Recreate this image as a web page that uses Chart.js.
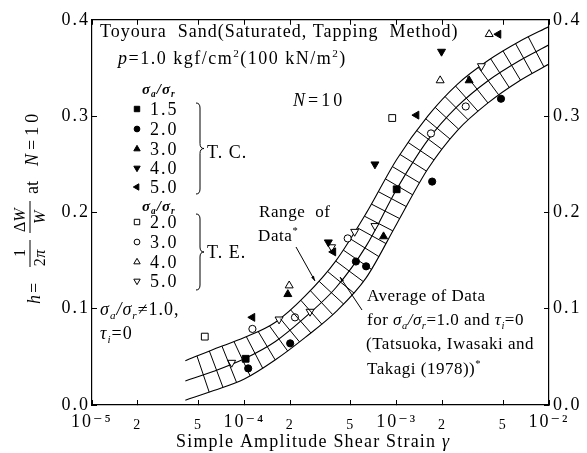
<!DOCTYPE html>
<html>
<head>
<meta charset="utf-8">
<script src="https://cdn.jsdelivr.net/npm/chart.js@4.4.1/dist/chart.umd.min.js"></script>
<style>
  body { margin: 0; background: #fff; }
</style>
</head>
<body>
<canvas id="hChart" width="587" height="453"></canvas>
<script>
// band: range of data + average curve
const bandStrain = [4.1e-5, 6.3e-5, 1.0e-4, 1.6e-4, 2.5e-4, 4.0e-4, 6.3e-4, 1.0e-3, 1.6e-3, 2.5e-3, 4.0e-3, 6.3e-3, 1.0e-2];
const bandUpper  = [0.046, 0.058, 0.070, 0.086, 0.113, 0.150, 0.199, 0.255, 0.300, 0.333, 0.358, 0.377, 0.393];
const bandAvg    = [0.025, 0.035, 0.048, 0.066, 0.091, 0.122, 0.165, 0.224, 0.275, 0.310, 0.337, 0.357, 0.374];
const bandLower  = [0.005, 0.015, 0.027, 0.047, 0.070, 0.097, 0.132, 0.188, 0.245, 0.285, 0.314, 0.336, 0.354];

// T.C. points [strain, h]
const tc15 = [[1.02e-4, 0.048], [1.0e-3, 0.224]];
const tc20 = [[1.06e-4, 0.038], [2.0e-4, 0.064], [5.4e-4, 0.149], [6.3e-4, 0.144], [1.71e-3, 0.232], [4.84e-3, 0.318]];
const tc30 = [[1.93e-4, 0.115], [8.2e-4, 0.175], [2.99e-3, 0.337]];
const tc40 = [[3.56e-4, 0.169], [7.2e-4, 0.250], [1.97e-3, 0.367]];
const tc50 = [[1.13e-4, 0.091], [3.84e-4, 0.159], [1.35e-3, 0.301], [4.66e-3, 0.385]];
// T.E. points
const te20 = [[5.5e-5, 0.071], [9.35e-4, 0.298]];
const te30 = [[1.13e-4, 0.079], [2.15e-4, 0.091], [4.77e-4, 0.173], [1.68e-3, 0.282], [2.84e-3, 0.310]];
const te40 = [[1.97e-4, 0.124], [1.93e-3, 0.337], [4.05e-3, 0.385]];
const te50 = [[8.26e-5, 0.044], [1.69e-4, 0.089], [2.7e-4, 0.097], [3.74e-4, 0.164], [5.3e-4, 0.180], [7.2e-4, 0.186], [3.6e-3, 0.352]];

const ratioTC = ['1.5', '2.0', '3.0', '4.0', '5.0'];
const ratioTE = ['2.0', '3.0', '4.0', '5.0'];

const yTicks = [0, 0.1, 0.2, 0.3, 0.4];
const xTicks = [1e-5, 2e-5, 5e-5, 1e-4, 2e-4, 5e-4, 1e-3, 2e-3, 5e-3, 1e-2];
const xTickLabels = ['10⁻⁵', '2', '5', '10⁻⁴', '2', '5', '10⁻³', '2', '5', '10⁻²'];

const FONT = "'Liberation Serif', 'DejaVu Serif', serif";

// marker looks, same order as the series
const tcSeries = [tc15, tc20, tc30, tc40, tc50];
const teSeries = [te20, te30, te40, te50];
const tcMarks = [
  { pointStyle: 'rect', rotation: 0, radius: 4.8 },
  { pointStyle: 'circle', rotation: 0, radius: 3.6 },
  { pointStyle: 'triangle', rotation: 0, radius: 4.6 },
  { pointStyle: 'triangle', rotation: 180, radius: 4.6 },
  { pointStyle: 'triangle', rotation: 270, radius: 4.6 }
];
const teMarks = [
  { pointStyle: 'rect', rotation: 0, radius: 4.8 },
  { pointStyle: 'circle', rotation: 0, radius: 3.6 },
  { pointStyle: 'triangle', rotation: 0, radius: 4.6 },
  { pointStyle: 'triangle', rotation: 180, radius: 4.6 }
];

function pts(arr) { return arr.map(p => ({ x: p[0], y: p[1] })); }
function bandPts(ys) { return bandStrain.map((x, i) => ({ x: x, y: ys[i] })); }

const datasets = [];
[bandUpper, bandAvg, bandLower].forEach(function (ys, i) {
  datasets.push({
    type: 'line', label: 'band' + i, data: bandPts(ys), order: 2,
    borderColor: '#000', borderWidth: 1.1, pointRadius: 0, showLine: true,
    cubicInterpolationMode: 'monotone', fill: false
  });
});
tcSeries.forEach(function (s, i) {
  datasets.push(Object.assign({
    label: 'TC ' + ratioTC[i], data: pts(s), order: 1,
    backgroundColor: '#000', borderColor: '#000', borderWidth: 1
  }, tcMarks[i], { pointRadius: tcMarks[i].radius }));
});
teSeries.forEach(function (s, i) {
  datasets.push(Object.assign({
    label: 'TE ' + ratioTE[i], data: pts(s), order: 1,
    backgroundColor: '#fff', borderColor: '#000', borderWidth: 1
  }, teMarks[i], { pointRadius: teMarks[i].radius }));
});

function isDecade(v) {
  const l = Math.log10(v);
  return Math.abs(l - Math.round(l)) < 1e-6;
}

// draw text made of pieces: i italic, b bold, _ subscript, ^ superscript
function rich(ctx, x, y, parts, size, sp) {
  let cx = x;
  parts.forEach(function (p) {
    const t = p[0], st = p[1] || '';
    let s = size, dy = 0;
    if (st.indexOf('_') >= 0) { s = size * 0.62; dy = size * 0.22; }
    if (st.indexOf('^') >= 0) { s = size * 0.62; dy = -size * 0.4; }
    ctx.font = (st.indexOf('i') >= 0 ? 'italic ' : '') + (st.indexOf('b') >= 0 ? 'bold ' : '') + s + 'px ' + FONT;
    ctx.letterSpacing = (sp || 0) + 'px';
    ctx.fillText(t, cx, y + dy);
    cx += ctx.measureText(t).width;
  });
  return cx - x;
}

function curvePoints(meta, area) {
  if (meta.dataset && meta.dataset.updateControlPoints) meta.dataset.updateControlPoints(area, 'x');
  const p = meta.data, out = [];
  for (let i = 0; i < p.length - 1; i++) {
    const a = p[i], b = p[i + 1];
    const c1x = a.cp2x !== undefined ? a.cp2x : a.x, c1y = a.cp2y !== undefined ? a.cp2y : a.y;
    const c2x = b.cp1x !== undefined ? b.cp1x : b.x, c2y = b.cp1y !== undefined ? b.cp1y : b.y;
    for (let k = 0; k < 24; k++) {
      const t = k / 24, m = 1 - t;
      out.push([
        m * m * m * a.x + 3 * m * m * t * c1x + 3 * m * t * t * c2x + t * t * t * b.x,
        m * m * m * a.y + 3 * m * m * t * c1y + 3 * m * t * t * c2y + t * t * t * b.y
      ]);
    }
  }
  out.push([p[p.length - 1].x, p[p.length - 1].y]);
  return out;
}

function hitLine(px, py, nx, ny, poly) {
  let best = null;
  for (let i = 0; i < poly.length - 1; i++) {
    const ax = poly[i][0], ay = poly[i][1];
    const dx = poly[i + 1][0] - ax, dy = poly[i + 1][1] - ay;
    const den = nx * dy - ny * dx;
    if (Math.abs(den) < 1e-9) continue;
    const qx = ax - px, qy = ay - py;
    const t = (qx * dy - qy * dx) / den;
    const s = (qx * ny - qy * nx) / den;
    if (s < 0 || s > 1) continue;
    if (best === null || Math.abs(t) < Math.abs(best)) best = t;
  }
  return best === null ? null : [px + best * nx, py + best * ny];
}

// cross hatching of the range band
const hatchPlugin = {
  id: 'hatch',
  afterDatasetsDraw(chart) {
    const area = chart.chartArea;
    const up = curvePoints(chart.getDatasetMeta(0), area);
    const mid = curvePoints(chart.getDatasetMeta(1), area);
    const low = curvePoints(chart.getDatasetMeta(2), area);
    const ctx = chart.ctx;
    ctx.save();
    ctx.beginPath();
    ctx.rect(area.left, area.top, area.right - area.left, area.bottom - area.top);
    ctx.clip();
    ctx.strokeStyle = '#000';
    ctx.lineWidth = 1;
    const step = 14;
    let next = 5, acc = 0;
    for (let i = 0; i < mid.length - 1; i++) {
      const dx = mid[i + 1][0] - mid[i][0], dy = mid[i + 1][1] - mid[i][1];
      const len = Math.hypot(dx, dy);
      while (acc + len >= next) {
        const f = (next - acc) / len;
        const px = mid[i][0] + f * dx, py = mid[i][1] + f * dy;
        const nx = -dy / len, ny = dx / len;
        const a = hitLine(px, py, nx, ny, up), b = hitLine(px, py, nx, ny, low);
        if (a && b) {
          ctx.beginPath();
          ctx.moveTo(a[0], a[1]);
          ctx.lineTo(b[0], b[1]);
          ctx.stroke();
        }
        next += step;
      }
      acc += len;
    }
    ctx.restore();
  }
};

function brace(ctx, x, y0, y1) {
  const ym = (y0 + y1) / 2;
  ctx.beginPath();
  ctx.moveTo(x - 3, y0);
  ctx.quadraticCurveTo(x + 1, y0, x + 1, y0 + 5);
  ctx.lineTo(x + 1, ym - 5);
  ctx.quadraticCurveTo(x + 1, ym, x + 5, ym);
  ctx.quadraticCurveTo(x + 1, ym, x + 1, ym + 5);
  ctx.lineTo(x + 1, y1 - 5);
  ctx.quadraticCurveTo(x + 1, y1, x - 3, y1);
  ctx.stroke();
}

function leader(ctx, x0, y0, x1, y1) {
  ctx.beginPath();
  ctx.moveTo(x0, y0);
  ctx.lineTo(x1, y1);
  ctx.stroke();
  const a = Math.atan2(y1 - y0, x1 - x0);
  ctx.beginPath();
  ctx.moveTo(x1, y1);
  ctx.lineTo(x1 - 5 * Math.cos(a) + 1.6 * Math.sin(a), y1 - 5 * Math.sin(a) - 1.6 * Math.cos(a));
  ctx.lineTo(x1 - 5 * Math.cos(a) - 1.6 * Math.sin(a), y1 - 5 * Math.sin(a) + 1.6 * Math.cos(a));
  ctx.closePath();
  ctx.fill();
}

const textPlugin = {
  id: 'texts',
  beforeDraw(chart) {
    chart.ctx.letterSpacing = '2px';
  },
  afterDraw(chart) {
    const ctx = chart.ctx;
    const H = Chart.helpers;
    ctx.save();
    ctx.fillStyle = '#000';
    ctx.strokeStyle = '#000';
    ctx.lineWidth = 1;
    ctx.textBaseline = 'alphabetic';
    ctx.textAlign = 'left';

    rich(ctx, 100, 37, [['Toyoura  Sand(Saturated, Tapping  Method)']], 18, 1);
    rich(ctx, 118, 64, [['p', 'i'], ['=1.0 kgf/cm'], ['2', '^'], ['(100 kN/m'], ['2', '^'], [')']], 18, 1.5);
    rich(ctx, 293, 106, [['N', 'i'], ['=10']], 18, 3);

    // legend, T.C.
    const hdr = [['σ', 'bi'], ['a', 'bi_'], ['/σ', 'bi'], ['r', 'bi_']];
    rich(ctx, 142, 94, hdr, 15, 1);
    const tcY = [109, 129, 149, 168, 187];
    ratioTC.forEach(function (r, i) {
      ctx.fillStyle = '#000';
      H.drawPoint(ctx, Object.assign({}, tcMarks[i], { radius: tcMarks[i].radius * 0.8, borderWidth: 1 }), 137, tcY[i]);
      rich(ctx, 150, tcY[i] + 6, [[r]], 18, 2);
    });
    brace(ctx, 199, 103, 194);
    rich(ctx, 207, 158, [['T. C.']], 18, 1);

    // legend, T.E.
    rich(ctx, 142, 211, hdr, 15, 1);
    const teY = [222, 242, 262, 281];
    ratioTE.forEach(function (r, i) {
      ctx.fillStyle = '#fff';
      H.drawPoint(ctx, Object.assign({}, teMarks[i], { radius: teMarks[i].radius * 0.8, borderWidth: 1 }), 137, teY[i]);
      ctx.fillStyle = '#000';
      rich(ctx, 150, teY[i] + 6, [[r]], 18, 2);
    });
    brace(ctx, 199, 214, 290);
    rich(ctx, 207, 258, [['T. E.']], 18, 1);

    rich(ctx, 100, 315, [['σ', 'i'], ['a', 'i_'], ['/σ', 'i'], ['r', 'i_'], ['≠1.0,']], 18, 1);
    rich(ctx, 100, 339, [['τ', 'i'], ['i', 'i_'], ['=0']], 18, 1);

    rich(ctx, 259, 217, [['Range  of']], 17, 0.6);
    rich(ctx, 258, 241, [['Data'], ['*', '^']], 17, 0.6);
    rich(ctx, 367, 301, [['Average of Data']], 17, 0.5);
    rich(ctx, 367, 325, [['for '], ['σ', 'i'], ['a', 'i_'], ['/σ', 'i'], ['r', 'i_'], ['=1.0 and '], ['τ', 'i'], ['i', 'i_'], ['=0']], 17, 0.5);
    rich(ctx, 366, 349, [['(Tatsuoka, Iwasaki and']], 17, 0.5);
    rich(ctx, 367, 374, [['Takagi (1978))'], ['*', '^']], 17, 0.5);

    leader(ctx, 296, 247, 315, 281);
    leader(ctx, 362, 310, 340, 277);

    // x axis title
    rich(ctx, 176, 447, [['Simple Amplitude Shear Strain '], ['γ', 'i']], 18, 1.2);

    // y axis title, rotated
    ctx.save();
    ctx.rotate(-Math.PI / 2);
    rich(ctx, -304, 40, [['h', 'i'], ['=']], 18, 2);
    ctx.beginPath(); ctx.moveTo(-267, 30); ctx.lineTo(-240, 30); ctx.stroke();
    ctx.textAlign = 'center';
    ctx.font = '16px ' + FONT; ctx.letterSpacing = '0px';
    ctx.fillText('1', -253, 25);
    rich(ctx, -262, 45, [['2'], ['π', 'i']], 16, 0.5);
    ctx.textAlign = 'left';
    ctx.beginPath(); ctx.moveTo(-233, 30); ctx.lineTo(-201, 30); ctx.stroke();
    rich(ctx, -232, 25, [['Δ'], ['W', 'i']], 16, 0);
    rich(ctx, -224, 45, [['W', 'i']], 16, 0);
    rich(ctx, -194, 38, [['at']], 18, 0);
    rich(ctx, -166, 38, [['N', 'i'], ['=10']], 18, 4);
    ctx.restore();

    ctx.restore();
  }
};

const axisGrid = { drawOnChartArea: false, tickLength: -5, color: '#000', lineWidth: 1 };
const axisBorder = { color: '#000', width: 1.2 };

new Chart(document.getElementById('hChart'), {
  type: 'scatter',
  data: { datasets: datasets },
  options: {
    responsive: false,
    animation: false,
    devicePixelRatio: 1,
    layout: { padding: 0 },
    plugins: { legend: { display: false }, tooltip: { enabled: false } },
    scales: {
      x: {
        type: 'logarithmic', position: 'bottom', min: 1e-5, max: 1e-2,
        afterBuildTicks: s => { s.ticks = xTicks.map(v => ({ value: v })); },
        afterFit: s => { s.height = 48; },
        grid: axisGrid, border: axisBorder,
        ticks: {
          autoSkip: false, maxRotation: 0, padding: 11, color: '#000',
          font: c => (c.tick && isDecade(c.tick.value))
            ? { family: FONT, size: 18, lineHeight: 1.2 }
            : { family: FONT, size: 14, lineHeight: 2.0 },
          callback: (v, i) => xTickLabels[i]
        }
      },
      x2: {
        type: 'logarithmic', position: 'top', min: 1e-5, max: 1e-2,
        afterBuildTicks: s => { s.ticks = xTicks.map(v => ({ value: v })); },
        afterFit: s => { s.height = 15; },
        grid: axisGrid, border: axisBorder,
        ticks: { display: false, autoSkip: false }
      },
      y: {
        type: 'linear', position: 'left', min: 0, max: 0.4,
        afterBuildTicks: s => { s.ticks = yTicks.map(v => ({ value: v })); },
        afterFit: s => { s.width = 92; },
        grid: axisGrid, border: axisBorder,
        ticks: { padding: 7, color: '#000', font: { family: FONT, size: 18 }, callback: v => v.toFixed(1) }
      },
      y2: {
        type: 'linear', position: 'right', min: 0, max: 0.4,
        afterBuildTicks: s => { s.ticks = yTicks.map(v => ({ value: v })); },
        afterFit: s => { s.width = 38; },
        grid: axisGrid, border: axisBorder,
        ticks: { padding: 9, color: '#000', font: { family: FONT, size: 18 }, callback: v => v.toFixed(1) }
      }
    }
  },
  plugins: [hatchPlugin, textPlugin]
});
</script>
</body>
</html>
